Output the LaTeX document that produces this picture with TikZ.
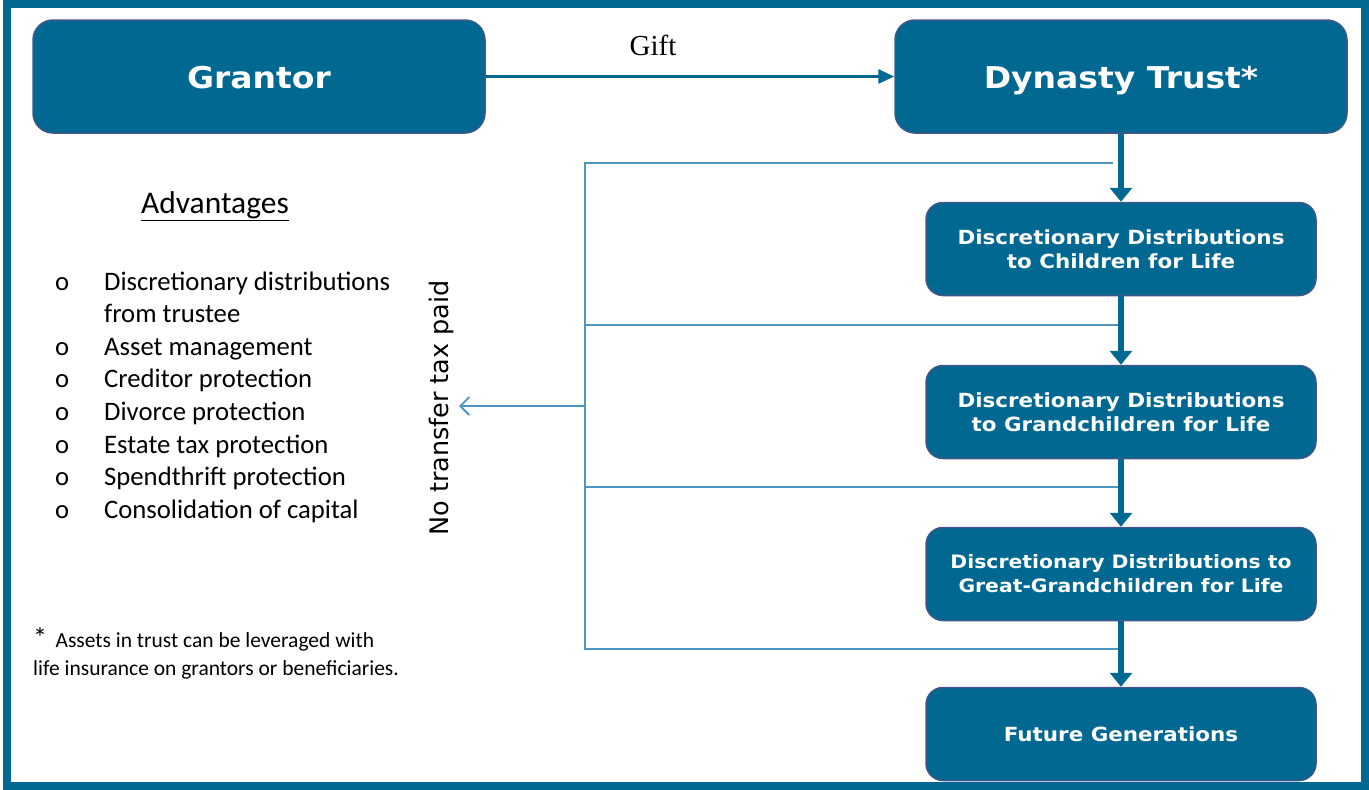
\documentclass[tikz,border=0pt]{standalone}
\usepackage{fontspec}
\setmainfont{Carlito}
\newfontfamily\boxfont[FakeStretch=1.1]{DejaVu Sans}
\newfontfamily\vfont{DejaVu Sans}
\newfontfamily\giftfont{Liberation Serif}
\usetikzlibrary{arrows.meta}
\definecolor{boxblue}{RGB}{0,104,145}
\definecolor{boxedge}{RGB}{62,88,138}
\definecolor{thinblue}{RGB}{78,150,192}
\begin{document}
\begin{tikzpicture}[x=1pt,y=-1pt,
  bigbox/.style={draw=boxedge, line width=1.5pt, fill=boxblue, rounded corners=20pt,
    text=white, minimum width=452pt, minimum height=113pt, inner sep=0pt,
    text height=25.5pt, text depth=2.5pt,
    font=\boxfont\bfseries\fontsize{30}{36}\selectfont},
  genbox/.style={draw=boxedge, line width=1.5pt, fill=boxblue, rounded corners=17pt,
    text=white, minimum width=390pt, minimum height=93pt, inner sep=0pt, align=center,
    font=\boxfont\bfseries\fontsize{19.5}{24}\selectfont},
  trunk/.style={boxblue, line width=6pt, -{Triangle[width=22pt,length=14pt]}},
  giftarrow/.style={boxblue, line width=3pt, -{Triangle[width=14pt,length=16pt]}},
  thinline/.style={thinblue, line width=2pt},
  openarrow/.style={thinblue, line width=2pt, -{Straight Barb[length=9pt,width=18pt,line width=1.8pt]}}
  ]
\useasboundingbox (0,0) rectangle (1369,790);
\draw[boxblue, line width=8pt] (7,4) rectangle (1364.5,786);

% main boxes
\node[bigbox] (grantor) at (259,76.5) {Grantor};
\node[bigbox] (dyn) at (1121,76.5) {Dynasty Trust*};
\node[genbox] (b1) at (1121,249) {Discretionary Distributions\\to Children for Life};
\node[genbox] (b2) at (1121,412) {Discretionary Distributions\\to Grandchildren for Life};
\node[genbox, font=\boxfont\bfseries\fontsize{18.5}{24}\selectfont] (b3) at (1121,574) {Discretionary Distributions to\\Great-Grandchildren for Life};
\node[genbox] (b4) at (1121,734) {Future Generations};

% gift
\draw[giftarrow] (grantor.east) -- (dyn.west);
\node[font=\giftfont\fontsize{29}{34}\selectfont] (gift) at (653,45) {Gift};

% trunk
\draw[trunk] (dyn.south) -- (b1.north);
\draw[trunk] (b1.south) -- (b2.north);
\draw[trunk] (b2.south) -- (b3.north);
\draw[trunk] (b3.south) -- (b4.north);

% side bracket
\coordinate (r0) at (1113,163);
\coordinate (r1) at (1118,325);
\coordinate (r2) at (1118,487);
\coordinate (r3) at (1118,649);
\coordinate (l0) at (585,163);
\coordinate (l1) at (585,325);
\coordinate (l2) at (585,487);
\coordinate (l3) at (585,649);
\coordinate (lm) at (585,406);
\coordinate (tip) at (459,406);
\draw[thinline] (r0) -- (l0) -- (l3) -- (r3);
\draw[thinline] (r1) -- (l1);
\draw[thinline] (r2) -- (l2);
\draw[openarrow] (lm) -- (tip);
\node[rotate=90, font=\vfont\fontsize{25.5}{30}\selectfont] (notax) at (441,408) {No transfer tax paid};

% advantages
\node[font=\fontsize{31.5}{36}\selectfont] (adv) at (215,206) {\underline{Advantages}};
\node[anchor=base west, inner sep=0pt, font=\fontsize{26.7}{32.6}\selectfont] (list) at (55,290)
{\begin{tabular}[t]{@{}p{49pt}@{}l@{}}
o & Discretionary distributions\\
  & from trustee\\
o & Asset management\\
o & Creditor protection\\
o & Divorce protection\\
o & Estate tax protection\\
o & Spendthrift protection\\
o & Consolidation of capital
\end{tabular}};

% footnote
\node[anchor=base west, inner sep=0pt, align=left, font=\fontsize{21.5}{28}\selectfont] (foot) at (33,675)
{{\fontsize{28}{28}\selectfont *}\, Assets in trust can be leveraged with\\life insurance on grantors or beneficiaries.};
\end{tikzpicture}
\end{document}
